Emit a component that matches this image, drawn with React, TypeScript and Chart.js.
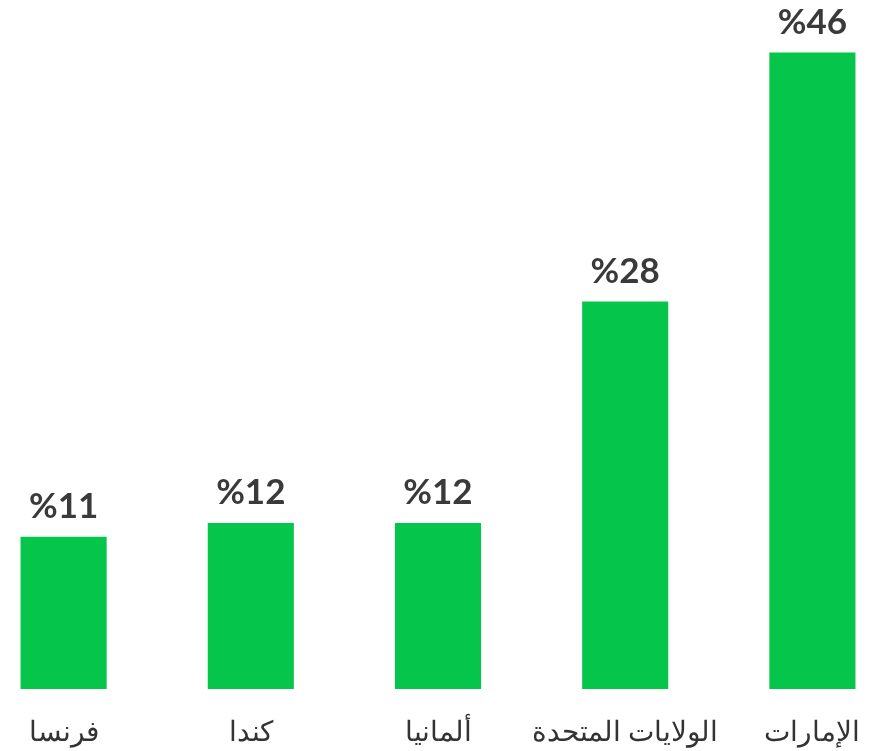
import React, { useEffect, useRef } from "react";
import { Chart, registerables } from "chart.js";

Chart.register(...registerables);

const categories = ["فرنسا", "كندا", "ألمانيا", "الولايات المتحدة", "الإمارات"];
const values = [11, 12, 12, 28, 46];
const valueLabels = ["%11", "%12", "%12", "%28", "%46"];

const valueLabelPlugin = {
  id: "valueLabels",
  afterDatasetsDraw(chart: any) {
    const ctx = chart.ctx;
    const meta = chart.getDatasetMeta(0);
    ctx.save();
    ctx.font = "700 35px Lato, 'Open Sans', sans-serif";
    ctx.fillStyle = "#3a3a3a";
    ctx.textAlign = "center";
    ctx.textBaseline = "alphabetic";
    meta.data.forEach((bar: any, i: number) => {
      ctx.fillText(valueLabels[i], bar.x, bar.y - 19);
    });
    ctx.restore();
  },
};

export default function App() {
  const ref = useRef<HTMLCanvasElement | null>(null);
  useEffect(() => {
    if (!ref.current) return;
    const chart = new Chart(ref.current, {
      type: "bar",
      data: {
        labels: categories,
        datasets: [
          {
            data: values,
            backgroundColor: "#05C64B",
            borderWidth: 0,
            barPercentage: 0.46,
            categoryPercentage: 1,
          },
        ],
      },
      options: {
        animation: false,
        responsive: false,
        maintainAspectRatio: false,
        layout: { padding: { top: 11, left: 0, right: 0, bottom: 0 } },
        plugins: { legend: { display: false }, tooltip: { enabled: false } },
        scales: {
          x: {
            grid: { display: false },
            border: { display: false },
            ticks: {
              color: "#333333",
              font: { size: 28, family: "serif" },
              padding: 20,
              maxRotation: 0,
              autoSkip: false,
            },
            afterFit(scale: any) {
              scale.height = 62;
            },
          },
          y: {
            display: false,
            min: 0,
            max: 49,
          },
        },
      },
      plugins: [valueLabelPlugin],
    });
    return () => chart.destroy();
  }, []);
  return (
    <div style={{ position: "absolute", left: 0, top: 0, width: 894, height: 751, overflow: "hidden", background: "#fff" }}>
      <div style={{ position: "absolute", left: -30, top: 0, width: 936, height: 751 }}>
        <canvas ref={ref} width={936} height={751} style={{ display: "block", width: 936, height: 751 }} />
      </div>
    </div>
  );
}
